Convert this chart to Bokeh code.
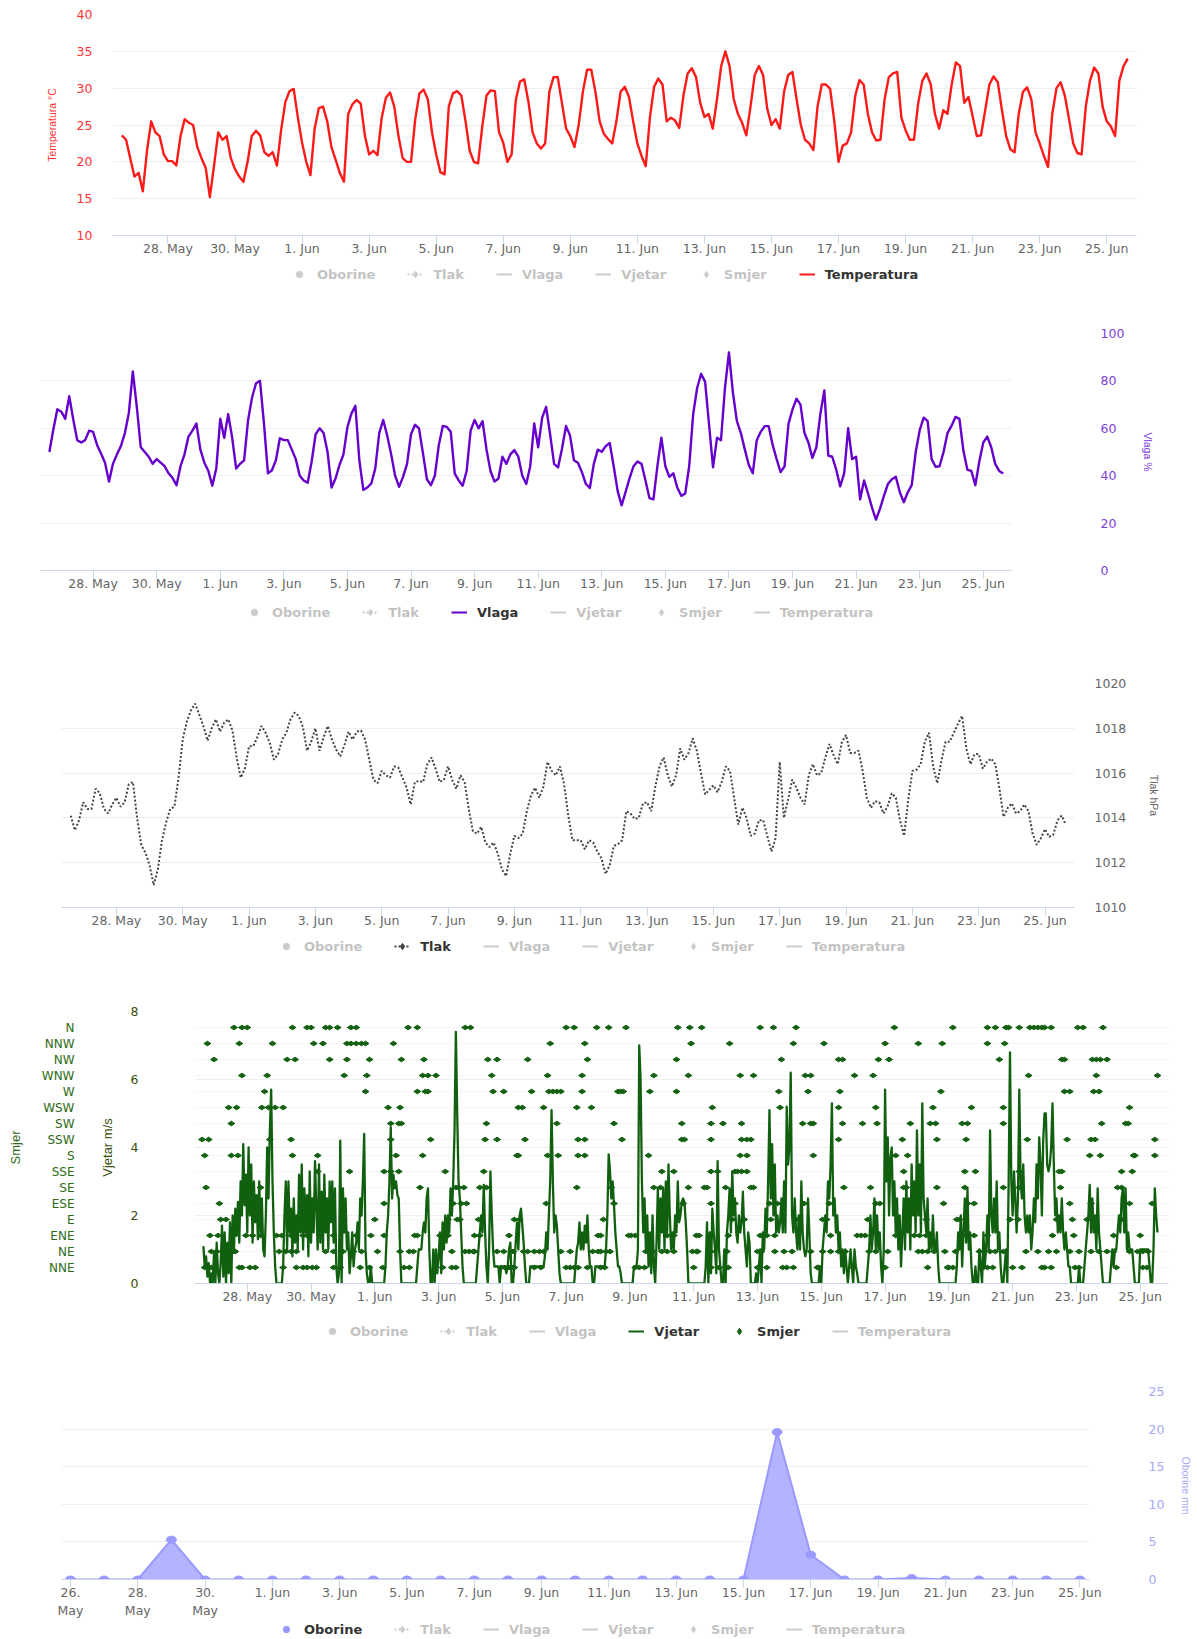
import math
from bokeh.plotting import figure
from bokeh.models import Range1d, LinearAxis, FixedTicker, Legend, LegendItem, Grid
from bokeh.layouts import column
from bokeh.embed import file_html
from bokeh.resources import INLINE

# ---------------- data ----------------
# x positions are hours since 26 May 00:00
TICK_DAYS = [2, 4, 6, 8, 10, 12, 14, 16, 18, 20, 22, 24, 26, 28, 30]
TICK_LABELS = ["28. May", "30. May", "1. Jun", "3. Jun", "5. Jun", "7. Jun", "9. Jun", "11. Jun",
               "13. Jun", "15. Jun", "17. Jun", "19. Jun", "21. Jun", "23. Jun", "25. Jun"]
RAIN_TICK_DAYS = [0, 2, 4, 6, 8, 10, 12, 14, 16, 18, 20, 22, 24, 26, 28, 30]
RAIN_TICK_LABELS = ["26.\nMay", "28.\nMay", "30.\nMay", "1. Jun", "3. Jun", "5. Jun", "7. Jun", "9. Jun",
                    "11. Jun", "13. Jun", "15. Jun", "17. Jun", "19. Jun", "21. Jun", "23. Jun", "25. Jun"]

SERIES_START_H = 15      # 26 May 15:00
STEP_3H = 3
STEP_1H = 1

TEMPERATURA = [
    23.6, 23.0, 20.5,
    18.0, 18.5, 16.0, 21.5, 25.5, 24.0, 23.5, 21.0,
    20.1, 20.1, 19.5, 23.5, 25.8, 25.3, 25.0, 22.0,
    20.5, 19.2, 15.2, 19.5, 24.0, 23.0, 23.5, 20.5,
    19.0, 18.0, 17.3, 20.0, 23.5, 24.2, 23.6, 21.3,
    20.8, 21.3, 19.5, 24.3, 28.1, 29.6, 29.9, 26.0,
    22.6, 20.0, 18.2, 24.5, 27.3, 27.5, 25.5, 22.0,
    20.3, 18.5, 17.3, 26.5, 27.8, 28.4, 27.9, 23.5,
    21.0, 21.5, 20.9, 26.0, 28.7, 29.4, 27.5, 23.5,
    20.5, 20.0, 20.0, 25.8, 29.3, 29.8, 28.5, 24.0,
    21.0, 18.6, 18.3, 27.5, 29.3, 29.6, 29.0, 25.5,
    21.5, 20.0, 19.8, 24.8, 29.0, 29.7, 29.6, 24.0,
    22.6, 20.0, 21.0, 28.4, 30.9, 31.2, 28.2, 24.0,
    22.5, 21.8, 22.5, 29.5, 31.5, 31.5, 28.0, 24.5,
    23.5, 22.0, 25.0, 29.5, 32.5, 32.5, 29.5, 25.5,
    23.8, 23.1, 22.5, 25.5, 29.5, 30.2, 28.8, 25.5,
    22.5, 20.8, 19.4, 26.0, 30.2, 31.3, 30.5, 25.5,
    26.0, 25.6, 24.6, 29.0, 32.0, 32.7, 31.5, 28.0,
    26.1, 26.5, 24.5, 28.5, 33.0, 35.0, 33.0, 28.5,
    26.5, 25.3, 23.6, 27.5, 31.8, 33.0, 31.8, 27.2,
    25.0, 25.8, 24.5, 29.5, 31.8, 32.2, 28.5, 25.0,
    23.0, 22.5, 21.6, 27.5, 30.5, 30.5, 29.9, 25.5,
    20.0, 22.2, 22.5, 24.0, 29.0, 31.1, 30.5, 26.5,
    24.0, 22.9, 23.0, 28.5, 31.5, 32.0, 32.2, 26.0,
    24.3, 23.0, 23.0, 27.9, 31.0, 32.0, 30.5, 26.5,
    24.5, 27.0, 26.5, 30.5, 33.5, 33.0, 28.0, 28.8,
    26.2, 23.5, 23.6, 27.0, 30.5, 31.6, 30.8, 27.0,
    23.5, 21.7, 21.3, 26.5, 29.5, 30.1, 28.5, 24.0,
    22.5, 20.8, 19.3, 26.5, 30.0, 30.8, 29.0, 25.8,
    22.5, 21.2, 21.0, 27.5, 31.0, 32.8, 32.0, 27.5,
    25.5, 24.8, 23.5, 31.0, 33.0, 34.0,
]

VLAGA = [
    50.0, 59.5, 68.0,
    67.0, 64.0, 73.5, 63.8, 55.0, 54.0, 55.0, 59.0,
    58.5, 53.0, 49.4, 45.5, 37.5, 45.0, 49.0, 52.5,
    58.0, 66.5, 84.0, 69.0, 52.0, 50.0, 48.0, 45.0,
    47.0, 45.5, 44.0, 41.0, 39.0, 36.0, 44.0, 49.0,
    56.5, 59.0, 62.0, 51.0, 45.5, 42.0, 35.8, 43.0,
    64.0, 56.0, 66.0, 56.0, 43.0, 45.0, 46.5, 63.4,
    73.0, 79.0, 80.0, 62.0, 41.0, 42.3, 46.5, 55.8,
    55.0, 55.0, 51.0, 47.0, 40.0, 38.0, 37.0, 46.0,
    57.5, 60.0, 58.0, 50.0, 35.0, 38.8, 44.5, 49.0,
    60.5, 66.2, 69.5, 46.5, 34.0, 35.0, 36.7, 43.0,
    58.0, 63.5, 57.0, 49.0, 40.0, 35.3, 39.5, 45.0,
    57.5, 61.5, 60.0, 49.5, 38.5, 36.0, 40.0, 53.0,
    61.0, 60.6, 58.5, 40.9, 38.0, 35.8, 42.0, 59.0,
    63.5, 60.0, 63.0, 51.0, 42.0, 37.5, 38.8, 48.0,
    45.0, 49.0, 50.8, 48.0, 40.0, 36.5, 44.0, 62.0,
    52.0, 64.5, 69.0, 57.5, 45.0, 43.5, 51.5, 61.0,
    57.0, 46.5, 45.5, 41.5, 36.5, 34.8, 45.0, 51.0,
    50.1, 52.5, 53.8, 44.0, 33.5, 27.5, 33.2, 39.0,
    44.0, 46.0, 45.0, 38.0, 30.5, 30.0, 44.0, 56.0,
    44.0, 39.5, 41.0, 35.0, 31.5, 32.5, 44.0, 66.0,
    77.0, 83.0, 79.6, 61.5, 43.5, 56.0, 55.0, 77.0,
    92.0, 75.0, 63.0, 58.0, 51.0, 44.5, 41.0, 55.0,
    58.5, 60.9, 60.9, 53.0, 47.0, 41.5, 44.0, 62.0,
    68.0, 72.5, 70.0, 58.0, 54.0, 47.5, 52.0, 66.0,
    76.0, 48.5, 48.0, 42.5, 35.5, 41.0, 60.0, 47.0,
    48.0, 30.0, 38.0, 32.5, 26.5, 21.5, 26.0, 31.5,
    36.5, 38.5, 39.5, 33.0, 28.8, 33.0, 36.0, 50.0,
    59.2, 64.5, 63.0, 47.0, 43.8, 44.0, 50.0, 58.0,
    61.0, 64.8, 64.0, 50.5, 42.5, 42.0, 36.0, 46.0,
    54.0, 56.5, 52.0, 45.0, 42.0, 40.9,
]

TLAK = [
    1014.1, 1013.45, 1013.9, 1014.7, 1014.4, 1014.4, 1015.3, 1015.1, 1014.4, 1014.2,
    1014.6, 1014.9, 1014.5, 1014.7, 1015.5, 1015.6, 1014.0, 1012.8, 1012.45, 1011.9,
    1011.0, 1011.7, 1013.0, 1013.8, 1014.4, 1014.5, 1015.8, 1017.5, 1018.3, 1018.8,
    1019.1, 1018.6, 1018.1, 1017.45, 1018.0, 1018.4, 1017.85, 1018.25, 1018.4, 1017.9,
    1016.7, 1015.8, 1016.2, 1017.2, 1017.2, 1017.6, 1018.1, 1017.8, 1017.35, 1016.6,
    1016.85, 1017.5, 1017.8, 1018.4, 1018.7, 1018.55, 1018.05, 1017.0, 1017.4, 1018.0,
    1017.0, 1017.6, 1018.1, 1017.5, 1017.05, 1016.75, 1017.25, 1017.85, 1017.5, 1017.85,
    1017.9, 1017.5, 1016.6, 1015.7, 1015.55, 1016.1, 1015.9, 1015.8, 1016.3, 1016.25,
    1015.8, 1015.35, 1014.6, 1015.6, 1015.65, 1015.6, 1016.4, 1016.7, 1016.2, 1015.6,
    1015.7, 1016.3, 1015.7, 1015.3, 1015.9, 1015.6, 1014.4, 1013.4, 1013.3, 1013.6,
    1012.9, 1012.7, 1012.9, 1012.4, 1011.7, 1011.4, 1012.4, 1013.2, 1013.1, 1013.3,
    1014.3, 1015.0, 1015.35, 1014.9, 1015.4, 1016.5, 1016.1, 1015.9, 1016.3, 1015.5,
    1014.1, 1013.0, 1013.0, 1013.0, 1012.6, 1013.0, 1012.9, 1012.5,
    1012.2, 1011.5, 1011.9, 1012.75, 1012.83, 1013.0, 1014.3, 1014.2, 1013.95, 1014.0,
    1014.65, 1014.7, 1014.3, 1015.4, 1016.3, 1016.7, 1015.9, 1015.4, 1015.9, 1017.1,
    1016.6, 1016.9, 1017.55, 1017.0, 1016.0, 1015.05, 1015.25, 1015.45, 1015.15, 1015.6,
    1016.3, 1016.1, 1014.9, 1013.7, 1014.46, 1014.0, 1013.2, 1013.3, 1013.9, 1013.9,
    1013.2, 1012.5, 1013.1, 1016.5, 1014.0, 1014.8, 1015.7, 1015.35, 1014.9, 1014.6,
    1015.9, 1016.4, 1015.9, 1016.0, 1016.7, 1017.3, 1016.8, 1016.4, 1017.4, 1017.7,
    1016.9, 1016.9, 1017.0, 1016.1, 1014.9, 1014.45, 1014.75, 1014.7, 1014.2, 1014.5,
    1015.1, 1014.9, 1013.9, 1013.2, 1014.8, 1016.1, 1016.15, 1016.4, 1017.4, 1017.8,
    1016.3, 1015.55, 1016.55, 1017.4, 1017.4, 1017.8, 1018.2, 1018.55, 1017.1, 1016.4,
    1016.85, 1016.85, 1016.2, 1016.5, 1016.65, 1016.4, 1015.3, 1014.05, 1014.45, 1014.65,
    1014.2, 1014.3, 1014.6, 1014.3, 1013.3, 1012.8, 1013.1, 1013.5, 1013.15, 1013.25,
    1013.9, 1014.1, 1013.7,
]

# hourly wind speed (m/s) from 26 May 15:00
VJETAR = [
    1.1, 0.5, 0.8, 0.2, 0.6, 0.0,
    0.3, 0.0, 0.9, 0.0, 1.2, 0.3, 0.0, 0.6, 1.7, 0.2, 1.5, 0.0, 1.2, 0.3, 1.8, 0.0,
    2.0, 1.0, 2.2, 1.4, 2.4, 1.2, 3.0, 2.0, 4.1, 2.3,
    3.2, 1.5, 4.0, 2.0, 3.5, 1.2, 3.0, 1.8, 2.6, 1.3, 3.0, 1.5, 2.5, 1.0, 0.8, 2.0, 4.0, 2.5, 4.5, 5.7, 3.0,
    1.5, 0.5, 0.0, 0.0, 0.0, 0.0, 0.0, 0.5, 2.0,
    3.0, 1.0, 3.0, 1.5, 2.2, 0.8, 2.5, 1.2, 2.0, 1.0, 3.2, 1.5,
    3.5, 1.0, 2.8, 1.5, 2.6, 0.8, 3.3, 1.2, 2.5, 1.5, 3.6, 2.2, 1.0, 3.5,
    1.2, 2.7, 1.0, 3.2, 1.5, 2.5, 1.0, 3.0, 1.8, 3.0, 1.2, 2.8, 0.5, 0.0, 0.3, 4.2, 0.0, 2.8,
    1.5, 2.5, 1.0, 1.5, 0.3, 0.8, 1.5, 0.5, 1.0, 1.2, 1.8, 1.0, 2.5, 2.0, 3.0, 4.4, 1.0,
    0.3, 0.0, 0.0, 0.5, 0.0, 0.0, 0.0, 0.0, 0.0, 0.0, 0.0, 0.0, 0.0, 0.0, 0.5, 1.5,
    2.0, 3.0, 4.6, 2.5, 3.2, 2.8, 3.0, 2.6, 2.5, 1.0, 0.0, 0.0,
    0.0, 0.0, 0.0, 0.0, 0.0, 0.0, 0.0, 0.0, 0.0, 0.0, 0.5, 1.0, 1.0, 1.0, 1.5,
    1.8, 1.5, 2.5, 2.8, 1.0, 0.0, 0.0, 1.0, 0.0, 1.0, 0.3, 0.8, 1.5, 0.3, 1.8,
    1.0, 2.0, 1.2, 2.0, 1.5, 2.8, 2.0, 3.0, 4.5, 7.4, 5.0, 3.0, 2.5, 1.5, 0.5, 0.0,
    0.0, 0.0, 0.0, 0.0, 0.0, 0.0, 0.0, 0.0, 0.0, 0.5, 1.0, 1.5, 2.0, 1.5,
    2.9, 1.5, 0.5, 0.0, 1.0, 3.3, 2.0, 1.0, 0.5, 0.5, 0.5, 0.5, 0.0, 0.5, 0.5, 0.5, 0.5, 0.3, 0.5, 1.0,
    1.2, 0.0, 0.0, 0.5, 1.2, 1.8, 1.0, 2.0, 2.2, 1.7, 1.2, 0.5,
    0.0, 0.0, 0.0, 0.5, 0.5, 0.5, 0.5, 0.5, 0.5, 0.5, 0.5, 0.5, 0.5, 0.5, 0.8, 1.5, 1.0, 2.0,
    3.0, 5.1, 3.0, 1.5, 2.0, 1.7, 1.0, 0.3, 0.0, 0.0,
    0.0, 0.0, 0.0, 0.0, 0.0, 0.0, 0.0, 0.0, 0.0, 0.5, 1.0, 1.2, 1.8, 1.0, 1.5,
    1.0, 1.7, 1.2, 2.0, 1.0, 0.5, 0.5, 0.0, 0.0, 0.5, 0.5, 0.5, 0.5, 0.5, 0.5, 0.5, 0.5, 1.0, 2.0, 3.8,
    3.3, 2.5, 3.0, 2.3, 1.5, 1.0, 0.5, 0.5, 0.3, 0.0, 0.0, 0.0, 0.0, 0.0, 0.0,
    0.0, 0.0, 0.0, 0.5, 0.5, 0.5, 1.0, 7.0, 6.0, 3.0, 1.5, 2.5, 1.0, 2.0, 0.5, 1.5, 0.3, 2.0, 0.5, 0.0,
    1.2, 2.8, 1.0, 2.5, 1.5, 2.8, 1.0, 3.0, 1.5, 3.5, 2.0, 1.0, 1.5, 1.0, 2.0, 1.5, 3.0,
    1.8, 2.0, 2.4, 2.5, 2.4, 1.8, 1.0, 0.0,
    0.0, 0.0, 0.0, 0.0, 0.0, 0.0, 0.0, 0.0, 0.0, 0.0, 0.0, 0.0, 0.5, 1.8,
    0.0, 1.5, 0.3, 2.2, 1.5, 1.0, 0.3, 3.6, 1.0, 0.5, 0.0, 0.0, 1.0, 0.0,
    1.5, 2.0, 2.8, 1.5, 3.3, 2.0, 2.5, 1.5, 1.2, 2.0, 1.5, 1.8, 2.7, 1.5, 1.0, 0.5, 1.5, 1.2, 0.0,
    0.0, 0.0, 0.0, 0.3, 0.0, 0.5, 1.0, 0.0, 1.5, 1.0, 2.2, 1.5, 3.0, 5.1, 2.5, 4.1,
    2.0, 3.5, 1.5, 2.0, 1.5, 1.8, 2.5, 1.5, 3.0, 1.5, 5.2, 3.5, 4.0, 6.2, 2.0, 1.5, 2.5,
    1.5, 1.0, 2.0, 1.0, 3.0, 1.5, 1.0, 0.8, 1.0, 2.5, 1.5, 0.3, 0.0, 0.0, 0.0,
    0.0, 0.0, 0.0, 0.5, 0.0, 1.0, 1.5, 2.0, 1.5, 3.0, 2.5, 3.5, 5.3,
    2.0, 2.5, 1.5, 2.0, 1.0, 1.5, 0.5, 1.0, 0.3, 1.0, 0.5, 0.0, 0.5, 1.0, 0.5, 0.0, 1.0, 0.5, 0.3, 0.0, 0.0, 0.0,
    0.0, 0.0, 0.0, 0.0, 0.5, 1.0, 2.0, 1.0, 1.5, 2.5, 1.0, 2.0, 1.0, 1.5, 0.5, 0.0, 1.0,
    5.7, 3.0, 4.3, 2.0, 3.7, 4.0, 2.0, 3.0, 1.5, 2.5, 1.0, 2.0, 0.5, 1.5, 2.5, 1.0, 3.0, 1.5,
    2.5, 1.0, 3.5, 2.0, 3.0, 1.5, 4.5, 2.0, 3.5, 1.5, 5.3, 2.5, 2.0, 1.5, 2.5, 1.0, 1.5, 1.0, 2.0, 1.0,
    1.0, 1.5, 0.5, 0.0, 0.0, 0.0, 0.0, 0.0, 0.0, 0.0, 0.0, 0.0, 0.0, 0.0, 0.0, 0.0, 0.5, 1.5,
    1.0, 2.0, 0.5, 1.5, 2.5, 1.2, 2.8, 1.0, 1.5, 0.5, 0.0, 0.0, 0.5, 0.0, 0.0, 1.0, 0.5, 0.0, 1.5, 0.5,
    1.0, 2.0, 1.0, 4.5, 2.0, 1.5, 2.5, 1.5, 3.0, 1.0, 1.5, 0.5, 0.0, 0.0, 0.5, 1.0, 0.0, 3.0, 6.8, 3.0,
    2.0, 3.3, 2.5, 1.5, 2.5, 5.7, 3.0, 2.5, 3.5, 2.0, 1.5, 2.0, 1.5, 2.0, 1.0, 1.5, 2.5,
    1.8, 3.5, 2.5, 4.3, 3.5, 2.0, 4.2, 5.0, 5.0, 3.5, 3.3, 3.5, 4.0, 5.3, 3.5, 2.0, 2.5, 1.5, 2.0, 1.5,
    2.5, 1.5, 1.0, 1.5, 1.0, 0.5, 0.5, 0.0, 0.0, 0.0, 0.0, 0.0, 0.0, 0.5, 0.0, 0.0, 0.0,
    0.5, 1.0, 1.5, 2.0, 2.9, 1.5, 2.5, 1.5, 2.0, 1.0, 2.8, 1.5, 1.0, 0.5, 0.0, 0.0, 0.0, 0.0,
    0.0, 0.0, 0.5, 1.0, 0.5, 1.0, 1.0, 1.5, 2.0, 1.5, 2.5, 2.8, 1.5, 2.8, 1.0, 1.5, 1.0, 1.0, 1.0, 0.5,
    0.0, 0.0, 0.0, 0.0, 1.0, 1.0, 1.0, 1.0, 1.0, 1.0, 1.0, 0.5, 0.0, 0.0, 1.0, 2.8, 2.0, 1.5,
]

# wind direction categories (bottom to top) and the hours at which each was observed
SMJER_KATEGORIJE = ["NNE", "NE", "ENE", "E", "ESE", "SE", "SSE", "S", "SSW", "SW",
                    "WSW", "W", "WNW", "NW", "NNW", "N"]
SMJER_N = [38, 44, 48, 82, 93, 96, 107, 110, 116, 126, 130, 169, 176, 212, 216, 288, 294, 311, 320, 333,
           372, 381, 390, 434, 444, 461, 535, 579, 605, 611, 619, 621, 629, 637, 640, 643, 646, 648, 653,
           673, 677, 692]
SMJER_NNW = [18, 42, 67, 98, 105, 123, 126, 130, 134, 137, 158, 276, 302, 382, 411, 459, 482, 528, 553,
             571, 605, 618]
SMJER_NW = [23, 78, 84, 110, 123, 140, 164, 181, 229, 236, 259, 304, 371, 450, 493, 496, 523, 531, 614,
            661, 663, 684, 687, 690, 695]
SMJER_WNW = [44, 63, 121, 138, 180, 184, 190, 232, 274, 300, 354, 380, 419, 429, 468, 472, 505, 519, 636,
             687, 733]
SMJER_W = [61, 137, 176, 182, 184, 233, 241, 262, 275, 278, 281, 284, 300, 327, 329, 331, 351, 371, 448,
           470, 494, 570, 663, 667, 685, 689]
SMJER_WSW = [34, 40, 59, 64, 69, 75, 154, 163, 252, 255, 271, 296, 307, 398, 449, 493, 521, 564, 593, 617,
             712]
SMJER_SW = [36, 156, 162, 164, 228, 281, 324, 375, 397, 406, 420, 466, 472, 474, 496, 511, 522, 547, 562,
            566, 586, 590, 617, 691, 709, 711]
SMJER_SSW = [14, 19, 65, 81, 156, 186, 227, 236, 257, 297, 302, 330, 375, 377, 397, 420, 424, 427, 493,
             541, 567, 589, 635, 665, 683, 686, 731]
SMJER_S = [16, 36, 41, 82, 101, 160, 180, 251, 252, 274, 282, 297, 302, 350, 419, 424, 474, 536, 545, 682,
           690, 715, 716, 731]
SMJER_SSE = [101, 125, 151, 156, 162, 197, 226, 360, 369, 397, 402, 415, 417, 420, 424, 542, 588, 596,
             629, 659, 661, 706, 714]
SMJER_SE = [17, 58, 178, 205, 207, 211, 223, 228, 296, 322, 354, 359, 380, 392, 394, 408, 427, 429, 497,
            517, 542, 544, 567, 588, 617, 629, 660, 703, 706]
SMJER_ESE = [27, 151, 203, 209, 213, 273, 324, 363, 376, 397, 415, 441, 447, 467, 486, 521, 524, 572, 590,
             595, 667, 683, 712, 729]
SMJER_E = [28, 32, 144, 199, 206, 208, 222, 249, 253, 316, 413, 422, 442, 461, 481, 484, 515, 559, 582,
           584, 622, 628, 657, 669, 680, 706]
SMJER_ENE = [20, 26, 47, 52, 58, 70, 74, 81, 90, 93, 113, 130, 141, 151, 174, 176, 193, 196, 199, 219,
             223, 245, 312, 314, 335, 337, 340, 364, 369, 386, 388, 410, 434, 436, 439, 445, 487, 507, 510,
             513, 536, 550, 554, 559, 589, 595, 605, 654, 670, 700, 720]
SMJER_NE = [21, 25, 32, 38, 39, 72, 77, 81, 85, 107, 113, 120, 128, 134, 146, 163, 170, 173, 202, 212,
            215, 218, 219, 236, 241, 248, 256, 259, 264, 268, 271, 284, 291, 308, 312, 314, 318, 321, 348,
            353, 360, 364, 369, 383, 386, 387, 397, 409, 432, 435, 445, 452, 458, 472, 481, 487, 493, 498,
            516, 521, 530, 553, 556, 560, 565, 573, 581, 599, 607, 611, 617, 634, 643, 651, 657, 667, 674,
            683, 689, 695, 700, 712, 718, 722, 726]
SMJER_NNE = [16, 18, 21, 42, 44, 50, 54, 75, 85, 90, 93, 97, 100, 113, 118, 133, 140, 150, 166, 170, 195,
             202, 205, 239, 242, 245, 248, 249, 264, 269, 288, 291, 294, 297, 304, 314, 317, 340, 343, 347,
             384, 397, 403, 408, 410, 432, 439, 451, 454, 459, 477, 478, 504, 528, 560, 575, 576, 579, 601,
             602, 605, 609, 624, 631, 646, 648, 653, 671, 674, 702, 722, 725]

OBORINE = [0, 0, 0, 5.3, 0, 0, 0, 0, 0, 0, 0, 0, 0, 0, 0, 0, 0, 0, 0, 0, 0, 19.6, 3.3, 0, 0, 0.2,
           0, 0, 0, 0, 0]

LEGEND_NAMES = ["Oborine", "Tlak", "Vlaga", "Vjetar", "Smjer", "Temperatura"]

# ---------------- styling ----------------
W = 1195
GRID_C = "#efefef"
AXIS_C = "#ccd6eb"
LBL_FONT = "DejaVu Sans"
TTL_FONT = "Liberation Sans"
GREY_SYM = "#555555"
TEMP_C, TEMP_L = "#ff1a1a", "#ff3333"
HUM_C, HUM_L = "#6600cc", "#8040d8"
PRES_C, PRES_L = "#444444", "#666666"
WIND_C, WIND_L, DIR_L = "#11600f", "#3a4f0c", "#2e6b16"
RAIN_C, RAIN_L = "#9999ff", "#a8a8f8"
SERIES_COLORS = {"Oborine": RAIN_C, "Tlak": PRES_C, "Vlaga": HUM_C, "Vjetar": WIND_C,
                 "Smjer": WIND_C, "Temperatura": TEMP_C}
TS_RANGE = (8.3, 741.3)


def hours(start, step, n):
    return [start + step * i for i in range(n)]


def make_fig(h, top, bottom, left, right, xr, yr, yloc="left"):
    p = figure(width=W, height=h, x_range=Range1d(*xr), y_range=Range1d(*yr),
               toolbar_location=None, output_backend="svg", y_axis_location=yloc,
               min_border_top=top, min_border_bottom=bottom,
               min_border_left=left, min_border_right=right)
    p.frame_align = False
    p.outline_line_color = None
    p.background_fill_color = "white"
    p.border_fill_color = "white"
    p.xgrid.visible = False
    p.ygrid.grid_line_color = GRID_C
    return p


def style_x(ax, days, labels):
    ax.ticker = FixedTicker(ticks=[d * 24 for d in days])
    ax.major_label_overrides = {d * 24: lab for d, lab in zip(days, labels)}
    ax.axis_line_color = AXIS_C
    ax.major_tick_line_color = AXIS_C
    ax.major_tick_in = 0
    ax.major_tick_out = 8
    ax.minor_tick_line_color = None
    ax.minor_tick_out = 0
    ax.major_label_text_font = LBL_FONT
    ax.major_label_text_font_size = "12.5px"
    ax.major_label_text_color = "#666666"
    ax.major_label_standoff = -3


def style_y(p, ax, ticks, color, standoff, title, tsize, tstand, lsize="12.5px", overrides=None, grid=True):
    t = FixedTicker(ticks=ticks)
    ax.ticker = t
    if grid:
        p.ygrid.ticker = t
    if overrides:
        ax.major_label_overrides = overrides
    ax.axis_line_color = None
    ax.major_tick_line_color = None
    ax.minor_tick_line_color = None
    ax.major_tick_in = 0
    ax.major_tick_out = 0
    ax.minor_tick_in = 0
    ax.minor_tick_out = 0
    ax.major_label_text_font = LBL_FONT
    ax.major_label_text_font_size = lsize
    ax.major_label_text_color = color
    ax.major_label_standoff = standoff
    ax.axis_label = title
    ax.axis_label_text_font = TTL_FONT
    ax.axis_label_text_font_size = tsize
    ax.axis_label_text_font_style = "normal"
    ax.axis_label_text_color = color
    ax.axis_label_standoff = tstand


def legend_glyphs(f, name, active):
    c = SERIES_COLORS[name] if active else GREY_SYM
    off = dict(x=[-5], y=[-5])   # one point outside the view, only for the legend symbol
    if name == "Oborine":
        rs = [f.scatter(marker="circle", size=12, fill_color=c, line_color=c, **off)]
    elif name == "Tlak":
        rs = [f.line(line_color=c, line_width=2, line_dash="2 2", **off),
              f.scatter(marker="diamond", angle=math.pi / 2, size=10, fill_color=c, line_color=c, **off)]
    elif name == "Smjer":
        rs = [f.scatter(marker="diamond", angle=math.pi / 2, size=8, fill_color=c, line_color=c, **off)]
    else:
        rs = [f.line(line_color=c, line_width=2, **off)]
    for r in rs:
        r.visible = active
    return rs


def legend_fig(h, vx, vy, active_names):
    f = figure(width=W, height=h, x_range=Range1d(0, 1), y_range=Range1d(0, 1),
               toolbar_location=None, output_backend="svg", x_axis_location=None,
               y_axis_location=None, min_border=0)
    f.frame_align = False
    f.outline_line_color = None
    f.background_fill_color = "white"
    f.border_fill_color = "white"
    f.xgrid.visible = False
    f.ygrid.visible = False
    items = [LegendItem(label=n, renderers=legend_glyphs(f, n, n in active_names)) for n in LEGEND_NAMES]
    leg = Legend(items=items, location=(vx, vy), orientation="horizontal", click_policy="hide",
                 label_text_font=LBL_FONT, label_text_font_size="13px", label_text_font_style="bold",
                 label_text_color="#333333", glyph_width=16, glyph_height=16, label_height=14,
                 label_standoff=10, spacing=32, padding=0, margin=0, border_line_color=None,
                 background_fill_alpha=0, inactive_fill_color="white", inactive_fill_alpha=0.7)
    f.add_layout(leg)
    return f


# ---------------- 1: temperature ----------------
p1 = make_fig(262, 14, 27, 112, 59, TS_RANGE, (10, 40))
style_x(p1.xaxis[0], TICK_DAYS, TICK_LABELS)
style_y(p1, p1.yaxis[0], [10, 15, 20, 25, 30, 35, 40], TEMP_L, 20, "Temperatura °C", "10.5px", 16)
p1.line(hours(SERIES_START_H, STEP_3H, len(TEMPERATURA)), TEMPERATURA,
        line_color=TEMP_C, line_width=2.4, line_join="round")
l1 = legend_fig(38, 291, 18, ["Temperatura"])

# ---------------- 2: humidity ----------------
p2 = make_fig(300, 33, 30, 40, 184, TS_RANGE, (0, 100), "right")
style_x(p2.xaxis[0], TICK_DAYS, TICK_LABELS)
style_y(p2, p2.yaxis[0], [0, 20, 40, 60, 80, 100], HUM_L, 89, "Vlaga %", "10.5px", 15)
p2.line(hours(SERIES_START_H, STEP_3H, len(VLAGA)), VLAGA,
        line_color=HUM_C, line_width=2.4, line_join="round")
l2 = legend_fig(40, 246, 20, ["Vlaga"])

# ---------------- 3: pressure ----------------
p3 = make_fig(295, 43, 28, 61, 121, TS_RANGE, (1010, 1020), "right")
style_x(p3.xaxis[0], TICK_DAYS, TICK_LABELS)
style_y(p3, p3.yaxis[0], [1010, 1012, 1014, 1016, 1018, 1020], PRES_L, 20, "Tlak hPa", "10.5px", 19)
p3.line(hours(SERIES_START_H, STEP_3H, len(TLAK)), TLAK,
        line_color=PRES_C, line_width=2, line_dash="2 2")
l3 = legend_fig(40, 278, 21, ["Tlak"])

# ---------------- 4: wind ----------------
p4 = make_fig(337, 36, 29, 194, 27, TS_RANGE, (0, 8))
p4.extra_y_ranges = {"dir": Range1d(-1, 16)}
style_x(p4.xaxis[0], TICK_DAYS, TICK_LABELS)
style_y(p4, p4.yaxis[0], [0, 2, 4, 6, 8], WIND_L, 56, "Vjetar m/s", "13px", 13)
dir_axis = LinearAxis(y_range_name="dir")
style_y(p4, dir_axis, list(range(len(SMJER_KATEGORIJE))), DIR_L, 22, "Smjer", "13px", 16,
        lsize="12px", overrides={i: s for i, s in enumerate(SMJER_KATEGORIJE)}, grid=False)
p4.add_layout(dir_axis, "left")
p4.add_layout(Grid(dimension=1, ticker=FixedTicker(ticks=list(range(len(SMJER_KATEGORIJE)))),
                   y_range_name="dir", grid_line_color="#f6f6f6"))
p4.line(hours(SERIES_START_H, STEP_1H, len(VJETAR)), VJETAR,
        line_color=WIND_C, line_width=2.3, line_join="round")
smjer_lists = [SMJER_NNE, SMJER_NE, SMJER_ENE, SMJER_E, SMJER_ESE, SMJER_SE, SMJER_SSE, SMJER_S,
               SMJER_SSW, SMJER_SW, SMJER_WSW, SMJER_W, SMJER_WNW, SMJER_NW, SMJER_NNW, SMJER_N]
dir_x, dir_y = [], []
for k, hrs in enumerate(smjer_lists):
    dir_x += hrs
    dir_y += [k] * len(hrs)
p4.scatter(dir_x, dir_y, y_range_name="dir", marker="diamond", angle=math.pi / 2, size=7,
           fill_color=WIND_C, line_color=WIND_C)
l4 = legend_fig(43, 324, 16, ["Vjetar", "Smjer"])

# ---------------- 5: precipitation ----------------
p5 = make_fig(265, 36, 38, 61, 106, (-6.4, 726.8), (0, 25), "right")
style_x(p5.xaxis[0], RAIN_TICK_DAYS, RAIN_TICK_LABELS)
style_y(p5, p5.yaxis[0], [0, 5, 10, 15, 20, 25], RAIN_L, 59, "Oborine mm", "10.5px", 13)
rain_x = [24 * d for d in range(len(OBORINE))]
p5.varea(x=rain_x, y1=[0] * len(OBORINE), y2=OBORINE, fill_color=RAIN_C, fill_alpha=0.75)
p5.line(rain_x, OBORINE, line_color=RAIN_C, line_width=2)
p5.ellipse(x=rain_x, y=OBORINE, width=10, height=7, width_units="screen", height_units="screen",
           fill_color=RAIN_C, line_color=RAIN_C)
l5 = legend_fig(17, 278, 0, ["Oborine"])

layout = column(p1, l1, p2, l2, p3, l3, p4, l4, p5, l5)
open("out.html", "w").write(file_html(layout, INLINE))
